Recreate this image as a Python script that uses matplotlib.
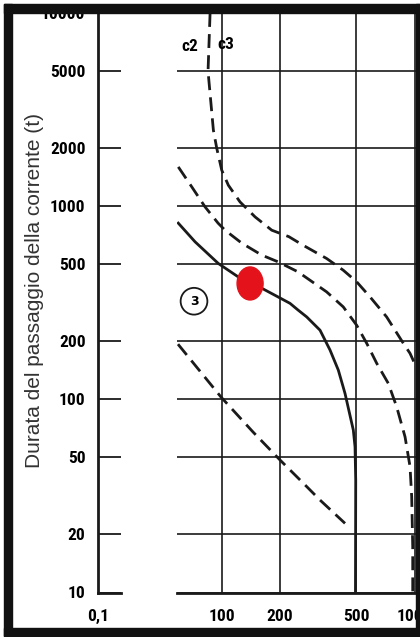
import matplotlib.pyplot as plt
from matplotlib.patches import Ellipse, Rectangle
from matplotlib import transforms
from matplotlib.ticker import NullLocator

# values (current in mA, duration in ms)
y_ticks = [10, 20, 50, 100, 200, 500, 1000, 2000, 5000, 10000]
y_tick_labels = ["10", "20", "50", "100", "200", "500", "1000", "2000", "5000", "10000"]
x_ticks = [100, 200, 500, 1000]
x_tick_labels = ["100", "200", "500", "1000"]

# outer dashed curve (starts at the top near 90 mA)
outer_i = [87, 84.9, 90.5, 94.2, 100, 108.2, 124.4, 148.9, 181.7, 223, 264, 350,
           427, 501, 588, 717, 875, 948, 994]
outer_t = [10000, 4995, 2474, 1996, 1536, 1284, 1052, 880, 751, 695, 628, 536,
           466, 406, 339, 267, 195, 173, 156]

# middle dashed curve
mid_i = [59.5, 69.9, 81.9, 95.7, 104, 126.9, 161.3, 195.9, 248.7, 350, 427, 501,
         565, 637, 731, 808, 893, 948, 967, 979, 979]
mid_t = [1597, 1259, 992, 817, 751, 644, 558, 515, 457, 360, 301, 242,
         195, 153.5, 121, 91.5, 64, 44.8, 31.3, 17.3, 10]

# solid curve
solid_i = [59.5, 72.7, 96, 121.5, 161.3, 195.9, 226, 248.7, 276, 323.5, 364.5, 402.5,
           436, 481.5, 491.4, 495.5, 494]
solid_t = [817, 654, 505, 431, 376, 339, 314, 290, 267, 228, 180, 141.7,
           107.3, 69.3, 56.8, 38.2, 10]

# lower diagonal dashed line
diag_i = [59.3, 99.2, 145.4, 200.7, 277, 323.5, 436]
diag_t = [193, 102.7, 67.7, 48.5, 35.2, 30.1, 22.8]

# red marker and circled zone number
dot_i, dot_t = 140.3, 398
zone_i, zone_t = 71.8, 322

W, H = 420, 637
fig = plt.figure(figsize=(W / 100, H / 100), dpi=100)
fig.patch.set_facecolor("white")

ink = "#1a1a1a"
tick_font = dict(family=["Liberation Sans Narrow", "Roboto Condensed", "DejaVu Sans"],
                 fontstretch="condensed", fontweight="bold", fontsize=12.5)

y_bot, y_top = 592.5, 13
axL = fig.add_axes([98 / W, (H - y_bot) / H, 23 / W, (y_bot - y_top) / H])
axR = fig.add_axes([177 / W, (H - y_bot) / H, (416 - 177) / W, (y_bot - y_top) / H])

for ax in (axL, axR):
    ax.set_xscale("log")
    ax.set_yscale("log")
    ax.set_ylim(10, 10000)
    ax.xaxis.set_minor_locator(NullLocator())
    ax.yaxis.set_minor_locator(NullLocator())
    for s in ax.spines.values():
        s.set_visible(False)
    ax.spines["bottom"].set_visible(True)
    ax.spines["bottom"].set_linewidth(2)
    ax.spines["bottom"].set_color(ink)
    ax.tick_params(length=0)

# left stub of the broken axis
axL.set_xlim(0.1, 0.1316)
axL.spines["left"].set_visible(True)
axL.spines["left"].set_linewidth(2)
axL.spines["left"].set_color(ink)
axL.set_yticks(y_ticks, y_tick_labels, **tick_font)
axL.set_xticks([0.1], ["0,1"], **tick_font)
axL.tick_params(axis="y", pad=9)
axL.tick_params(axis="x", pad=12)
axL.grid(True, axis="y", color=ink, lw=1.3)

# main part
axR.set_xlim(58.6, 1018)
axR.set_yticks(y_ticks, [""] * len(y_ticks))
axR.set_xticks(x_ticks, x_tick_labels, **tick_font)
axR.tick_params(axis="x", pad=12)
axR.grid(True, color=ink, lw=1.2)
axR.set_axisbelow(True)

dash = (5, 2.6)
line_kw = dict(color=ink, lw=2.0, solid_joinstyle="round", dash_joinstyle="round")
axR.plot(outer_i, outer_t, dashes=dash, **line_kw)
axR.plot(mid_i, mid_t, dashes=dash, **line_kw)
axR.plot(solid_i, solid_t, **line_kw)
axR.plot(diag_i, diag_t, dashes=dash, **line_kw)

axR.text(68.7, 6745, "c2", ha="center", va="center", **tick_font)
axR.text(105.5, 6910, "c3", ha="center", va="center", **tick_font)
axR.text(zone_i, zone_t, "3", ha="center", va="center", fontsize=9, fontweight="bold",
         bbox=dict(boxstyle="circle,pad=0.55", fc="white", ec=ink, lw=1.3))

trans = fig.dpi_scale_trans + transforms.ScaledTranslation(dot_i, dot_t, axR.transData)
axR.add_patch(Ellipse((0, 0), 0.26, 0.33, transform=trans, color="#e3121b", zorder=5))

fig.text(35 / W, 1 - 290.5 / H, "Durata del passaggio della corrente (t)", rotation=90,
         ha="center", va="center", fontsize=15, family="Liberation Sans", color="#333333")

# thick black frame of the scan
def frame(x0, y0, x1, y1):
    fig.patches.append(Rectangle((x0 / W, 1 - y1 / H), (x1 - x0) / W, (y1 - y0) / H,
                                 transform=fig.transFigure, color="#111111", zorder=10))

frame(4, 4, 420, 13)
frame(4, 628, 420, 636)
frame(4, 4, 12, 636)
frame(416, 4, 420, 636)

fig.savefig("out.png", dpi=100)
